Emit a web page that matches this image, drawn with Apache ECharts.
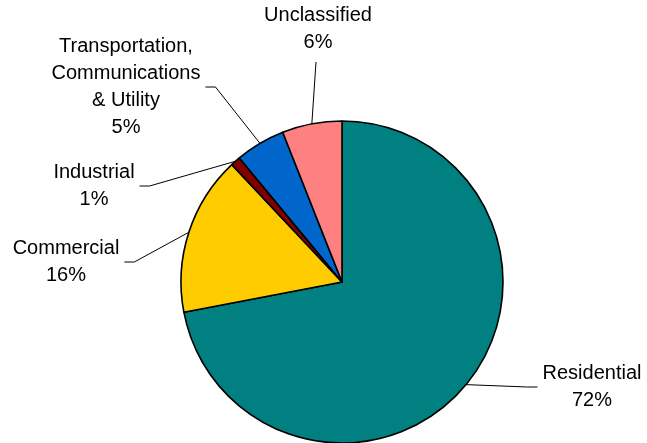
<!DOCTYPE html>
<html><head><meta charset="utf-8">
<script src="https://cdn.jsdelivr.net/npm/echarts@6/dist/echarts.min.js"></script>
<style>html,body{margin:0;padding:0;background:#fff}#c{width:647px;height:443px}</style>
</head><body><div id="c"></div>
<script>
const categories = ['Residential', 'Commercial', 'Industrial', 'Transportation,\nCommunications\n& Utility', 'Unclassified'];
const values = [72, 16, 1, 5, 6];
const colors = ['#008080', '#FFCC00', '#800000', '#0066CC', '#FF8080'];

// label block centres (layout, not data)
const labelCenters = [[592, 387], [66, 262], [94, 186], [126, 87], [318, 29]];
// side of the label the leader line leaves from: 1 = right, -1 = left, 0 = bottom
const lineSide = [-1, 1, 1, 1, 0];

const chart = echarts.init(document.getElementById('c'), null, {renderer: 'canvas'});
chart.setOption({
  backgroundColor: '#ffffff',
  animation: false,
  series: [{
    type: 'pie',
    center: [342, 282],
    radius: 161,
    startAngle: 90,
    clockwise: true,
    avoidLabelOverlap: false,
    data: categories.map((n, i) => ({name: n, value: values[i], itemStyle: {color: colors[i]}})),
    itemStyle: {borderColor: '#000', borderWidth: 1.6},
    label: {
      show: true,
      position: 'outside',
      color: '#000',
      fontFamily: 'Liberation Sans, Arial, sans-serif',
      fontSize: 20,
      lineHeight: 27,
      align: 'center',
      formatter: p => p.name + '\n' + Math.round(p.percent) + '%'
    },
    labelLine: {show: true, length: 10, length2: 10, lineStyle: {color: '#000', width: 1}},
    labelLayout: function (p) {
      const i = p.dataIndex;
      const c = labelCenters[i];
      const w = p.labelRect.width, h = p.labelRect.height;
      const a = p.labelLinePoints ? p.labelLinePoints[0] : null;
      let pts;
      if (lineSide[i] === 0) {
        const yb = c[1] + h / 2 + 6;
        pts = [a, [c[0] - 2, yb], [c[0] - 2, yb]];
      } else {
        const xe = c[0] + lineSide[i] * (w / 2 + 5);
        pts = [a, [xe + lineSide[i] * 10, c[1]], [xe, c[1]]];
      }
      const r = {x: c[0], y: c[1], align: 'center', verticalAlign: 'middle'};
      if (a) r.labelLinePoints = pts;
      return r;
    }
  }]
});
</script>
</body></html>
